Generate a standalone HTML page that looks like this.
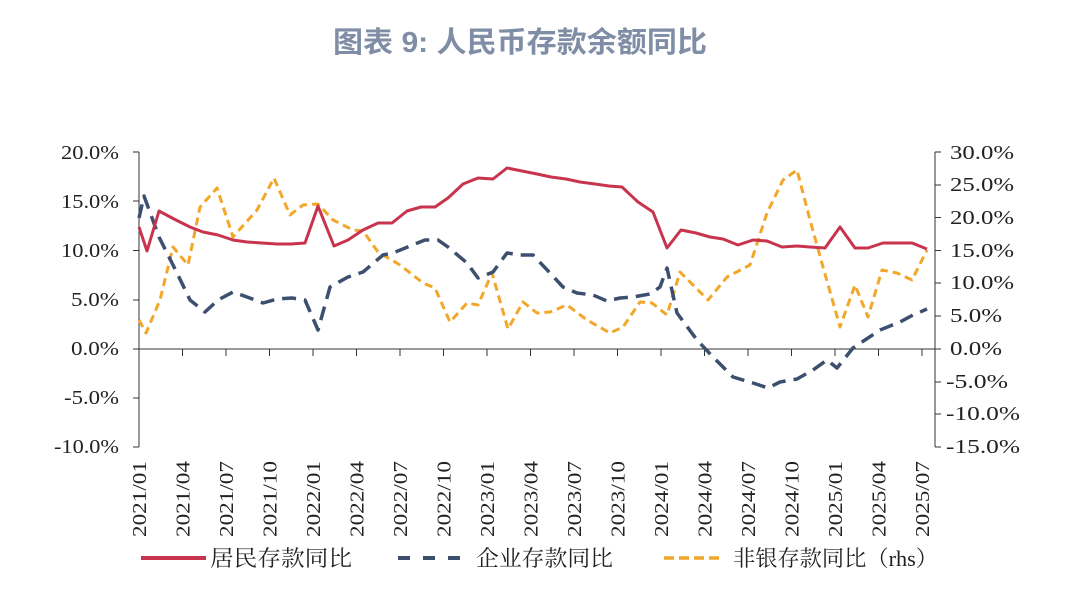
<!DOCTYPE html>
<html><head><meta charset="utf-8"><style>
body{margin:0;background:#fff;}
svg{display:block;}
.t{font-family:"Liberation Serif","Noto Serif CJK SC",serif;font-size:20px;fill:#222;}
.l{font-family:"Liberation Serif","Noto Serif CJK SC",serif;font-size:22px;fill:#222;}
</style></head><body>
<svg width="1080" height="602" viewBox="0 0 1080 602" xmlns="http://www.w3.org/2000/svg">
<text x="520" y="52" text-anchor="middle" textLength="374" lengthAdjust="spacingAndGlyphs" style="font-family:'Liberation Sans','Noto Sans CJK SC',sans-serif;font-size:29px;font-weight:bold;fill:#7f8ea6">图表 9: 人民币存款余额同比</text>
<g stroke="#333" stroke-width="1" fill="none">
<line x1="139" y1="152" x2="139" y2="447"/>
<line x1="935" y1="152" x2="935" y2="447"/>
<line x1="139" y1="349" x2="935" y2="349"/>
<path d="M133 152H139M133 201H139M133 250.5H139M133 300H139M133 349H139M133 398H139M133 447H139"/>
<path d="M935 152H941M935 185H941M935 217.5H941M935 250.5H941M935 283H941M935 316H941M935 349H941M935 382H941M935 414H941M935 447H941"/>
<path d="M139 349v7M182.5 349v7M226 349v7M269.5 349v7M313 349v7M356.5 349v7M400 349v7M443.5 349v7M487 349v7M530.5 349v7M574 349v7M617.5 349v7M661 349v7M704.5 349v7M748 349v7M791.5 349v7M835 349v7M878.5 349v7M922 349v7"/>
</g>
<g class="t" text-anchor="end">
<text x="119" y="159" textLength="58" lengthAdjust="spacingAndGlyphs">20.0%</text><text x="119" y="208" textLength="58" lengthAdjust="spacingAndGlyphs">15.0%</text><text x="119" y="257" textLength="58" lengthAdjust="spacingAndGlyphs">10.0%</text><text x="119" y="306" textLength="48" lengthAdjust="spacingAndGlyphs">5.0%</text><text x="119" y="355" textLength="48" lengthAdjust="spacingAndGlyphs">0.0%</text><text x="119" y="404" textLength="55" lengthAdjust="spacingAndGlyphs">-5.0%</text><text x="119" y="453" textLength="65" lengthAdjust="spacingAndGlyphs">-10.0%</text>
</g>
<g class="t">
<text x="950" y="159" textLength="64" lengthAdjust="spacingAndGlyphs">30.0%</text><text x="950" y="191" textLength="64" lengthAdjust="spacingAndGlyphs">25.0%</text><text x="950" y="224" textLength="64" lengthAdjust="spacingAndGlyphs">20.0%</text><text x="950" y="257" textLength="64" lengthAdjust="spacingAndGlyphs">15.0%</text><text x="950" y="289" textLength="64" lengthAdjust="spacingAndGlyphs">10.0%</text><text x="950" y="322" textLength="52" lengthAdjust="spacingAndGlyphs">5.0%</text><text x="950" y="355" textLength="52" lengthAdjust="spacingAndGlyphs">0.0%</text><text x="946" y="388" textLength="62" lengthAdjust="spacingAndGlyphs">-5.0%</text><text x="946" y="420" textLength="74" lengthAdjust="spacingAndGlyphs">-10.0%</text><text x="946" y="453" textLength="74" lengthAdjust="spacingAndGlyphs">-15.0%</text>
</g>
<g class="t" text-anchor="end">
<text transform="translate(146,461) rotate(-90)" textLength="76" lengthAdjust="spacingAndGlyphs">2021/01</text>
<text transform="translate(189.5,461) rotate(-90)" textLength="76" lengthAdjust="spacingAndGlyphs">2021/04</text>
<text transform="translate(233,461) rotate(-90)" textLength="76" lengthAdjust="spacingAndGlyphs">2021/07</text>
<text transform="translate(276.5,461) rotate(-90)" textLength="76" lengthAdjust="spacingAndGlyphs">2021/10</text>
<text transform="translate(320,461) rotate(-90)" textLength="76" lengthAdjust="spacingAndGlyphs">2022/01</text>
<text transform="translate(363.5,461) rotate(-90)" textLength="76" lengthAdjust="spacingAndGlyphs">2022/04</text>
<text transform="translate(407,461) rotate(-90)" textLength="76" lengthAdjust="spacingAndGlyphs">2022/07</text>
<text transform="translate(450.5,461) rotate(-90)" textLength="76" lengthAdjust="spacingAndGlyphs">2022/10</text>
<text transform="translate(494,461) rotate(-90)" textLength="76" lengthAdjust="spacingAndGlyphs">2023/01</text>
<text transform="translate(537.5,461) rotate(-90)" textLength="76" lengthAdjust="spacingAndGlyphs">2023/04</text>
<text transform="translate(581,461) rotate(-90)" textLength="76" lengthAdjust="spacingAndGlyphs">2023/07</text>
<text transform="translate(624.5,461) rotate(-90)" textLength="76" lengthAdjust="spacingAndGlyphs">2023/10</text>
<text transform="translate(668,461) rotate(-90)" textLength="76" lengthAdjust="spacingAndGlyphs">2024/01</text>
<text transform="translate(711.5,461) rotate(-90)" textLength="76" lengthAdjust="spacingAndGlyphs">2024/04</text>
<text transform="translate(755,461) rotate(-90)" textLength="76" lengthAdjust="spacingAndGlyphs">2024/07</text>
<text transform="translate(798.5,461) rotate(-90)" textLength="76" lengthAdjust="spacingAndGlyphs">2024/10</text>
<text transform="translate(842,461) rotate(-90)" textLength="76" lengthAdjust="spacingAndGlyphs">2025/01</text>
<text transform="translate(885.5,461) rotate(-90)" textLength="76" lengthAdjust="spacingAndGlyphs">2025/04</text>
<text transform="translate(929,461) rotate(-90)" textLength="76" lengthAdjust="spacingAndGlyphs">2025/07</text>
</g>
<polyline fill="none" stroke="#f2a72a" stroke-width="3" stroke-dasharray="8,5" stroke-linejoin="round" points="139,320 146,333 160,300 173,247 188,265 200,207 217,188 233,237 257,210 274,178 290,215 303,205 318,204 333,220 353,230 363,231 378,252 400,265 423,283 435,288 450,322 467,303 478,305 492,273 508,329 523,302 537,313 550,312 567,305 587,320 610,333 623,327 640,302 652,303 667,315 680,272 708,300 727,277 750,265 767,213 783,180 797,170 810,220 823,267 840,327 855,285 868,317 882,270 897,273 912,280 927,250"/>
<polyline fill="none" stroke="#3d4f6e" stroke-width="3.5" stroke-dasharray="14,8" stroke-linejoin="round" points="139,218 144,196 159,237 177,273 190,300 205,312 218,300 233,292 247,297 263,303 277,299 292,298 305,300 318,330 330,287 348,277 363,272 383,255 393,253 410,246 425,240 438,240 448,247 467,263 478,278 493,272 507,253 520,255 533,255 550,273 563,287 577,293 593,295 607,301 620,298 633,297 650,294 660,287 667,268 677,313 697,340 713,357 733,377 753,383 768,388 780,382 797,379 813,370 827,360 837,368 853,348 865,340 880,330 900,322 913,315 927,309"/>
<polyline fill="none" stroke="#c8344d" stroke-width="3" stroke-linejoin="round" points="139,227 147,251 159,211 174,219 190,227 203,232 218,235 233,240 247,242 262,243 277,244 291,244 305,243 318,206 334,246 348,240 363,230 378,223 392,223 407,211 421,207 435,207 448,198 463,184 478,178 493,179 507,168 522,171 537,174 551,177 566,179 580,182 595,184 609,186 622,187 638,202 653,212 667,248 681,230 696,233 710,237 723,239 738,245 753,240 767,241 782,247 797,246 810,247 825,248 840,227 855,248 868,248 883,243 898,243 912,243 927,249"/>
<line x1="141" y1="558" x2="206" y2="558" stroke="#c8344d" stroke-width="4"/>
<text class="l" x="210" y="566" textLength="142" lengthAdjust="spacingAndGlyphs">居民存款同比</text>
<line x1="398" y1="558" x2="462" y2="558" stroke="#3d4f6e" stroke-width="4" stroke-dasharray="12,13"/>
<text class="l" x="476" y="566" textLength="137" lengthAdjust="spacingAndGlyphs">企业存款同比</text>
<line x1="664" y1="558" x2="724" y2="558" stroke="#f2a72a" stroke-width="3.5" stroke-dasharray="10,5"/>
<text class="l" x="733" y="566" textLength="205" lengthAdjust="spacingAndGlyphs">非银存款同比（rhs）</text>
</svg>
</body></html>
